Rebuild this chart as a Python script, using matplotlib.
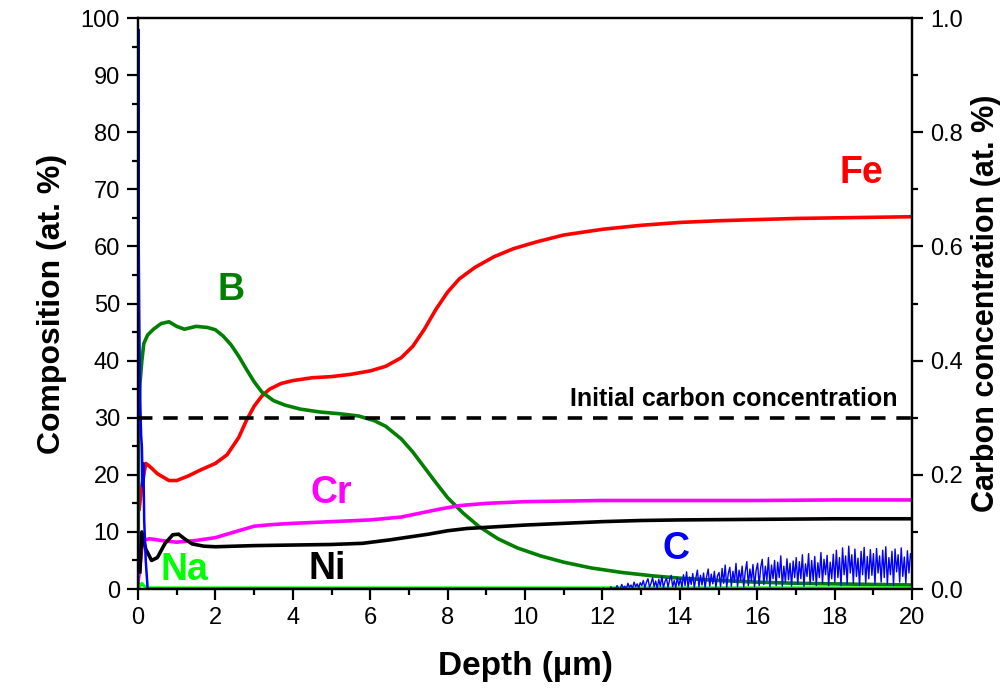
import matplotlib
matplotlib.use("Agg")
import matplotlib.pyplot as plt
from matplotlib.ticker import MultipleLocator, FormatStrFormatter

plt.rcParams['font.family'] = ['Liberation Sans', 'DejaVu Sans']

# ---------------- data (at. %) ----------------
fe_x = [0.03, 0.1, 0.2, 0.3, 0.5, 0.8, 1.0, 1.3, 1.6, 2.0, 2.3, 2.6, 2.8, 3.0, 3.2, 3.4, 3.7, 4.0, 4.5,
        5.0, 5.5, 6.0, 6.4, 6.8, 7.1, 7.4, 7.7, 8.0, 8.3, 8.7, 9.2, 9.7, 10.3, 11.0, 12.0, 13.0, 14.0,
        15.0, 16.0, 17.0, 18.0, 19.0, 20.0]
fe_y = [14, 18, 22, 21.5, 20.2, 19.0, 19.0, 19.8, 20.8, 22.0, 23.5, 26.5, 29.5, 32.0, 33.8, 35.0, 36.0,
        36.5, 37.0, 37.2, 37.6, 38.2, 39.0, 40.5, 42.5, 45.5, 49.0, 52.0, 54.3, 56.3, 58.2, 59.6, 60.8,
        62.0, 63.0, 63.7, 64.2, 64.5, 64.7, 64.9, 65.0, 65.1, 65.2]

b_x = [0.0, 0.02, 0.05, 0.1, 0.15, 0.25, 0.4, 0.6, 0.8, 1.0, 1.2, 1.5, 1.8, 2.0, 2.2, 2.4, 2.6, 2.8,
       3.0, 3.2, 3.5, 3.8, 4.2, 4.7, 5.2, 5.7, 6.1, 6.4, 6.8, 7.1, 7.4, 7.7, 8.0, 8.4, 8.8, 9.3, 9.8,
       10.4, 11.0, 11.7, 12.5, 13.3, 14.0, 15.0, 16.0, 17.0, 18.0, 19.0, 20.0]
b_y = [0, 30, 36, 40, 43, 44.5, 45.5, 46.5, 46.8, 46.0, 45.5, 46.0, 45.8, 45.4, 44.3, 42.8, 40.8, 38.5,
       36.3, 34.5, 33.0, 32.2, 31.5, 31.0, 30.7, 30.3, 29.5, 28.5, 26.3, 24.0, 21.3, 18.6, 16.0, 13.3,
       11.0, 8.8, 7.2, 5.8, 4.7, 3.7, 2.9, 2.3, 1.9, 1.5, 1.2, 1.0, 0.9, 0.8, 0.7]

cr_x = [0.0, 0.05, 0.12, 0.3, 0.6, 1.0, 1.5, 2.0, 2.5, 3.0, 3.5, 4.0, 5.0, 6.0, 6.8, 7.3, 7.8, 8.3,
        9.0, 10.0, 11.0, 12.0, 14.0, 16.0, 18.0, 20.0]
cr_y = [1.0, 4.0, 8.5, 8.8, 8.5, 8.2, 8.5, 9.0, 10.0, 11.0, 11.3, 11.5, 11.8, 12.1, 12.6, 13.3, 14.0,
        14.6, 15.0, 15.3, 15.4, 15.5, 15.5, 15.5, 15.6, 15.6]

ni_x = [0.05, 0.1, 0.2, 0.35, 0.5, 0.7, 0.9, 1.05, 1.2, 1.4, 1.7, 2.0, 3.0, 4.0, 5.0, 5.8, 6.5, 7.0,
        7.5, 8.0, 8.5, 9.0, 10.0, 11.0, 12.0, 13.0, 14.0, 16.0, 18.0, 20.0]
ni_y = [3, 10, 7, 5, 5.5, 8.0, 9.5, 9.6, 8.8, 7.9, 7.5, 7.4, 7.6, 7.7, 7.8, 8.0, 8.6, 9.1, 9.6, 10.2,
        10.6, 10.8, 11.2, 11.5, 11.8, 12.0, 12.1, 12.2, 12.3, 12.3]

na_x = [0.0, 0.05, 0.1, 0.15, 0.2, 0.3, 20.0]
na_y = [0.0, 0.5, 1.0, 0.6, 0.3, 0.2, 0.2]

teal_x = [0.3, 20.0]
teal_y = [0.15, 0.15]

# carbon (right axis, at. %)
c_x0 = [0.0, 0.01, 0.02, 0.03, 0.05, 0.08, 0.1, 0.12, 0.14, 0.16, 0.2, 0.25, 0.3, 11.9]
c_y0 = [0.0, 0.98, 0.6, 0.5, 0.35, 0.27, 0.25, 0.18, 0.22, 0.12, 0.05, 0.0, 0.0, 0.0]
c_noise = [
    0, 0, 0, 0.002, 0, 0, 0.001, 0, 0.004, 0, 0.002, 0, 0.006, 0.001, 0, 0.008, 0.002, 0.005, 0, 0.01,
    0.003, 0.007, 0.001, 0.012, 0.004, 0.009, 0.002, 0.011,
    0.006, 0.015, 0.002, 0.012, 0.018, 0.003, 0.01, 0.02, 0.004, 0.014, 0.001, 0.017, 0.005, 0.022,
    0.002, 0.013, 0.019, 0.003, 0.016, 0.024, 0.004, 0.015, 0.002, 0.02, 0.006,
    0.018, 0.003, 0.025, 0.006, 0.03, 0.002, 0.021, 0.008, 0.027, 0.002, 0.019, 0.033, 0.004, 0.024,
    0.007, 0.028, 0.002, 0.022, 0.035, 0.005, 0.026, 0.009, 0.031, 0.003, 0.023,
    0.029, 0.004, 0.036, 0.01, 0.042, 0.003, 0.027, 0.038, 0.005, 0.031, 0.012, 0.045, 0.004, 0.033,
    0.015, 0.04, 0.003, 0.03, 0.048, 0.006, 0.035, 0.014, 0.043, 0.004, 0.032,
    0.045, 0.006, 0.038, 0.052, 0.008, 0.04, 0.015, 0.055, 0.004, 0.042, 0.018, 0.05, 0.006, 0.047,
    0.02, 0.058, 0.005, 0.04, 0.012, 0.053, 0.016, 0.045, 0.005, 0.049, 0.02,
    0.055, 0.008, 0.048, 0.018, 0.06, 0.005, 0.044, 0.022, 0.062, 0.008, 0.05, 0.015, 0.057, 0.006,
    0.046, 0.02, 0.064, 0.01, 0.052, 0.025, 0.059, 0.006, 0.047, 0.018, 0.061,
    0.012, 0.068, 0.02, 0.055, 0.006, 0.072, 0.025, 0.058, 0.008, 0.075, 0.028, 0.06, 0.01, 0.07,
    0.022, 0.054, 0.006, 0.066, 0.025, 0.073, 0.01, 0.057, 0.018, 0.069, 0.024,
    0.062, 0.008, 0.071, 0.028, 0.058, 0.012, 0.068, 0.02, 0.074, 0.008, 0.055, 0.025, 0.066, 0.006,
    0.07, 0.03, 0.06, 0.012, 0.072, 0.022, 0.056, 0.01, 0.067, 0.028, 0.062, 0.05,
]
c_noise_start = 11.9
c_noise_end = 20.0

initial_c = 0.30   # right-axis value of the dashed line

# ---------------- figure ----------------
fig = plt.figure(figsize=(10.08, 6.91), dpi=100)
ax = fig.add_axes([0.1369, 0.1476, 0.7679, 0.8263])
ax2 = ax.twinx()

lw = 2.6
ax.plot(fe_x, fe_y, color='#ff0000', lw=lw)
ax.plot(b_x, b_y, color='#008000', lw=lw)
ax.plot(cr_x, cr_y, color='#ff00ff', lw=lw)
ax.plot(ni_x, ni_y, color='#000000', lw=lw)
ax.plot(teal_x, teal_y, color='#2a8a8a', lw=2.2)
ax.plot(na_x, na_y, color='#00ff00', lw=2.2)

n = len(c_noise)
step = (c_noise_end - c_noise_start) / (n - 1)
c_nx = [c_noise_start + i * step for i in range(n)]
ax2.plot(c_x0, c_y0, color='#0000ff', lw=1.8)
ax2.plot(c_nx, c_noise, color='#0000ff', lw=1.0)
ax2.plot([0, 20], [initial_c, initial_c], color='black', lw=2.6, ls=(0, (4, 3)))

# labels inside
bold = dict(fontweight='bold', ha='center', va='center')
ax.text(2.4, 52.4, 'B', color='#008000', fontsize=27, **bold)
ax.text(18.7, 72.8, 'Fe', color='#ff0000', fontsize=27, **bold)
ax.text(5.0, 16.8, 'Cr', color='#ff00ff', fontsize=27, **bold)
ax.text(4.9, 3.5, 'Ni', color='#000000', fontsize=27, **bold)
ax.text(1.2, 3.4, 'Na', color='#00ff00', fontsize=27, **bold)
ax.text(13.9, 7.0, 'C', color='#0000ff', fontsize=27, **bold)
ax.text(15.4, 33.3, 'Initial carbon concentration', color='black', fontsize=18, **bold)

# axes
ax.set_xlim(0, 20)
ax.set_ylim(0, 100)
ax2.set_ylim(0, 1.0)
ax.xaxis.set_major_locator(MultipleLocator(2))
ax.xaxis.set_minor_locator(MultipleLocator(1))
ax.yaxis.set_major_locator(MultipleLocator(10))
ax.yaxis.set_minor_locator(MultipleLocator(5))
ax2.yaxis.set_major_locator(MultipleLocator(0.2))
ax2.yaxis.set_minor_locator(MultipleLocator(0.1))
ax2.yaxis.set_major_formatter(FormatStrFormatter('%.1f'))

for a in (ax, ax2):
    for s in a.spines.values():
        s.set_linewidth(1.6)
    a.tick_params(which='major', direction='out', length=8, width=1.6, labelsize=17, pad=5)
    a.tick_params(which='minor', direction='out', length=4, width=1.6)
ax.tick_params(axis='y', which='both', right=False)
ax.tick_params(axis='x', which='both', top=False, pad=5)

ax.set_xlabel('Depth (µm)', fontsize=24, fontweight='bold', labelpad=16)
ax.set_ylabel('Composition (at. %)', fontsize=23, fontweight='bold', labelpad=10)
ax2.set_ylabel('Carbon concentration (at. %)', fontsize=22, fontweight='bold', labelpad=6)

fig.savefig('out.png', dpi=100)
